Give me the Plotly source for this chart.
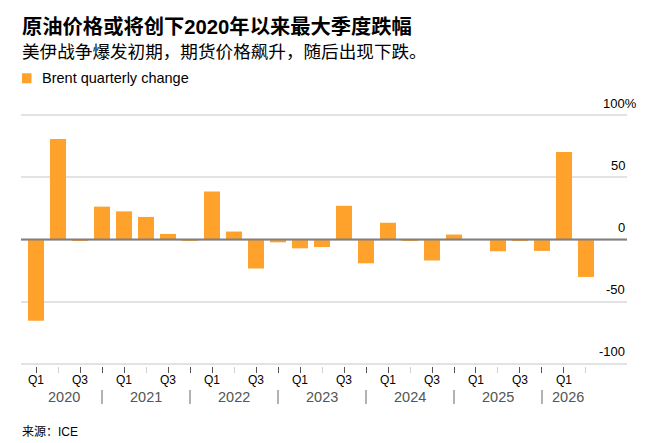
import plotly.graph_objects as go

# ---------------- data ----------------
quarters = ["Q1", "Q2", "Q3", "Q4"] * 6 + ["Q1", "Q2"]
years = [2020] * 4 + [2021] * 4 + [2022] * 4 + [2023] * 4 + [2024] * 4 + [2025] * 4 + [2026] * 2
brent_change = [-65.5, 81.0, -0.5, 26.5, 22.7, 18.2, 4.5, -0.9,
                38.7, 6.4, -23.4, -2.3, -7.1, -6.1, 27.2, -19.2,
                13.5, -1.2, -16.9, 4.0, 0.1, -9.5, -0.9, -9.2,
                70.6, -30.2]
year_labels = ["2020", "2021", "2022", "2023", "2024", "2025", "2026"]
y_ticks = [100, 50, 0, -50, -100]
y_tick_text = ["100%", "50", "0", "-50", "-100"]
series_name = "Brent quarterly change"
title = "原油价格或将创下2020年以来最大季度跌幅"
subtitle = "美伊战争爆发初期，期货价格飙升，随后出现下跌。"
source = "来源：ICE"

# ---------------- layout constants ----------------
W, H = 659, 443
ML, MR, MT, MB = 21, 32, 113.2, 77
PW, PH = W - ML - MR, H - MT - MB
FONT = "Liberation Sans, Arial, Noto Sans CJK SC"
BAR = "#ffa22b"


def px(x):
    return (x - ML) / PW


def py(y):
    return (H - MB - y) / PH


idx = list(range(len(brent_change)))

fig = go.Figure()
fig.add_trace(go.Bar(x=idx, y=brent_change, marker=dict(color=BAR, line=dict(width=0)),
                     name=series_name, showlegend=False, hoverinfo="skip"))

major = [i for i, q in zip(idx, quarters) if q != "Q2"]
minor = [i for i, q in zip(idx, quarters) if q == "Q2"]

fig.update_layout(
    width=W, height=H,
    margin=dict(l=ML, r=MR, t=MT, b=MB, pad=0),
    paper_bgcolor="white", plot_bgcolor="white",
    bargap=0.27,
    font=dict(family=FONT, color="#000"),
    xaxis=dict(range=[-0.682, 26.864], showgrid=False, zeroline=False,
               tickmode="array", tickvals=major, ticktext=[""] * len(major),
               ticks="outside", ticklen=6, tickwidth=1, tickcolor="#555",
               minor=dict(tickmode="array", tickvals=minor, ticks="outside",
                          ticklen=6, tickwidth=1, tickcolor="#d0d0d0"),
               showline=False, fixedrange=True),
    yaxis=dict(range=[-102, 102], tickmode="array", tickvals=y_ticks,
               showticklabels=False, showgrid=True, gridcolor="#e3e3e3",
               gridwidth=1.6, zeroline=False, fixedrange=True),
)

# zero line
fig.add_shape(type="line", xref="paper", yref="y", x0=0, x1=1, y0=0, y1=0,
              line=dict(color="#7f7f7f", width=2), layer="above")

ann = []
# y tick labels
for v, t in zip(y_ticks, y_tick_text):
    ann.append(dict(xref="paper", yref="y", x=1, y=v, text=t, showarrow=False,
                    xanchor="right", yanchor="middle", yshift=12,
                    xshift=11.5 if t.endswith("%") else 0,
                    font=dict(size=13, color="#000")))

# quarter labels
for i, q in zip(idx, quarters):
    if q in ("Q1", "Q3"):
        ann.append(dict(xref="x", yref="paper", x=i, y=py(379.5), text=q, showarrow=False,
                        xanchor="center", yanchor="middle",
                        font=dict(size=12, color="#000")))

# year separators (at Q4) and year labels
seps = [i for i, q in zip(idx, quarters) if q == "Q4"]
bounds = [-0.45] + seps + [25.4]
for k, yl in enumerate(year_labels):
    ann.append(dict(xref="x", yref="paper", x=(bounds[k] + bounds[k + 1]) / 2, y=py(397),
                    text=yl, showarrow=False, xanchor="center", yanchor="middle",
                    font=dict(size=14.5, color="#555")))
for s in seps:
    fig.add_shape(type="line", xref="x", yref="paper", x0=s, x1=s,
                  y0=py(390), y1=py(404), line=dict(color="#999", width=1.5))

# title, subtitle, legend, source
ann.append(dict(xref="paper", yref="paper", x=px(20), y=py(26.5), text="<b>" + title + "</b>",
                showarrow=False, xanchor="left", yanchor="middle",
                font=dict(size=20.3, color="#000")))
ann.append(dict(xref="paper", yref="paper", x=px(20), y=py(52.5), text=subtitle,
                showarrow=False, xanchor="left", yanchor="middle",
                font=dict(size=17.6, color="#000")))
fig.add_shape(type="rect", xref="paper", yref="paper", x0=px(22), x1=px(31.5),
              y0=py(73.5), y1=py(83.5), fillcolor=BAR, line=dict(width=0))
ann.append(dict(xref="paper", yref="paper", x=px(40), y=py(78.5), text=series_name,
                showarrow=False, xanchor="left", yanchor="middle",
                font=dict(size=14.5, color="#000")))
ann.append(dict(xref="paper", yref="paper", x=px(20), y=py(431.5), text=source,
                showarrow=False, xanchor="left", yanchor="middle",
                font=dict(size=12, color="#000")))

fig.update_layout(annotations=ann)
fig.write_html("out.html")
